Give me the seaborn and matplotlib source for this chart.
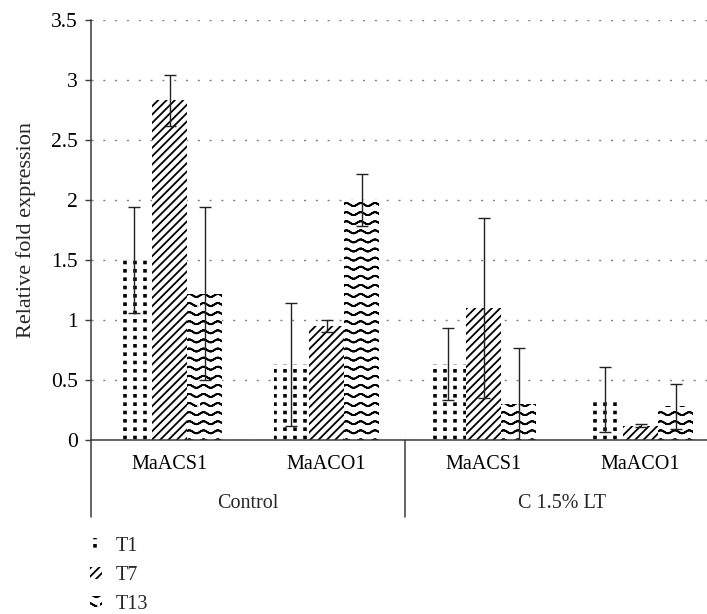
import numpy as np
import pandas as pd
import matplotlib
matplotlib.use("Agg")
import matplotlib.pyplot as plt
import matplotlib.hatch as mhatch
import matplotlib.transforms as mtransforms
from matplotlib.path import Path
from matplotlib.lines import Line2D
from matplotlib.patches import Patch
import seaborn as sns

# ---- data -------------------------------------------------------------
conditions = ["Control", "Control", "C 1.5% LT", "C 1.5% LT"]
genes = ["MaACS1", "MaACO1", "MaACS1", "MaACO1"]
timepoints = ["T1", "T7", "T13"]

t1_mean = [1.50, 0.63, 0.63, 0.34]
t7_mean = [2.83, 0.95, 1.10, 0.12]
t13_mean = [1.22, 2.00, 0.30, 0.28]

t1_err = [0.44, 0.51, 0.30, 0.27]
t7_err = [0.21, 0.05, 0.75, 0.01]
t13_err = [0.72, 0.22, 0.47, 0.19]

y_ticks = [0, 0.5, 1, 1.5, 2, 2.5, 3, 3.5]

slots = [f"{c}|{g}" for c, g in zip(conditions, genes)]
means = {"T1": t1_mean, "T7": t7_mean, "T13": t13_mean}
errs = {"T1": t1_err, "T7": t7_err, "T13": t13_err}

df = pd.DataFrame(
    [(s, t, means[t][i]) for t in timepoints for i, s in enumerate(slots)],
    columns=["slot", "time", "value"],
)


# ---- hatch patterns: square dots ('.') and wavy rows ('O') -------------
class SquareDots(mhatch.HatchPatternBase):
    def __init__(self, hatch, density):
        n = hatch.count(".")
        self.cols = 10 if n else 0
        self.rows = 12 if n else 0
        self.num_vertices = self.cols * self.rows * 5

    def set_vertices_and_codes(self, vertices, codes):
        s = 0.009
        k = 0
        for i in range(self.rows):
            for j in range(self.cols):
                cx = (j + 0.5) / self.cols
                cy = (i + 0.5) / self.rows
                vertices[k:k + 5] = [[cx - s, cy - s], [cx + s, cy - s],
                                     [cx + s, cy + s], [cx - s, cy + s],
                                     [cx - s, cy - s]]
                codes[k:k + 5] = [Path.MOVETO, Path.LINETO, Path.LINETO,
                                  Path.LINETO, Path.CLOSEPOLY]
                k += 5


class WaveRows(mhatch.HatchPatternBase):
    def __init__(self, hatch, density):
        n = hatch.count("O")
        self.rows = 11 if n else 0
        self.periods = 7
        self.steps = 10
        self.per_row = self.periods * self.steps + 1
        self.num_vertices = self.rows * self.per_row * 2

    def set_vertices_and_codes(self, vertices, codes):
        xs = np.linspace(0.0, 1.0, self.per_row)
        amp = 0.015
        k = 0
        for i in range(self.rows):
            y0 = (i + 0.5) / self.rows
            ys = y0 + amp * np.sin(2 * np.pi * self.periods * xs)
            fwd = np.column_stack([xs, ys])
            # trace forward and back so the filled area stays empty
            pts = np.vstack([fwd, fwd[::-1]])
            n = len(pts)
            vertices[k:k + n] = pts
            codes[k:k + n] = Path.LINETO
            codes[k] = Path.MOVETO
            k += n


if hasattr(mhatch, "_hatch_types"):
    mhatch._hatch_types[:] = [
        mhatch.HorizontalHatch, mhatch.VerticalHatch,
        mhatch.NorthEastHatch, mhatch.SouthEastHatch,
        mhatch.SmallCircles, SquareDots, WaveRows, mhatch.Stars,
    ]

hatches = {"T1": ".", "T7": "////", "T13": "O"}

# ---- style ------------------------------------------------------------
sns.set_style("ticks")
plt.rcParams["font.family"] = ["Liberation Serif", "DejaVu Serif"]
plt.rcParams["hatch.linewidth"] = 1.3
FS = 14.5
AX_COLOR = "#3a3a3a"

fig = plt.figure(figsize=(7.07, 6.14), dpi=100)
ax = fig.add_axes([91 / 707, 174 / 614, 628 / 707, 420 / 614])

sns.barplot(
    data=df, x="slot", y="value", hue="time",
    order=slots, hue_order=timepoints,
    palette=["white"] * 3, edgecolor="black", linewidth=0,
    width=0.67, errorbar=None, legend=False, ax=ax,
)

for t, cont in zip(timepoints, ax.containers):
    xs, ys = [], []
    for p in cont.patches:
        p.set_hatch(hatches[t])
        p.set_edgecolor("black")
        p.set_linewidth(0)
        xs.append(p.get_x() + p.get_width() / 2)
        ys.append(p.get_height())
    ax.errorbar(xs, ys, yerr=errs[t], fmt="none", ecolor="#222222",
                elinewidth=1.0, capsize=4, capthick=1.0, zorder=5)

# ---- axes -------------------------------------------------------------
ax.set_xlim(-0.5, 3.5)
ax.set_ylim(0, 3.5)
ax.set_yticks(y_ticks)
ax.set_yticklabels([f"{v:g}" for v in y_ticks])
ax.set_xticks(range(len(genes)))
ax.set_xticklabels(genes)
ax.tick_params(axis="y", length=4.5, width=1.0, color=AX_COLOR,
               pad=5, labelsize=15.5, labelcolor="black")
ax.tick_params(axis="x", length=0, pad=11, labelsize=FS, labelcolor="black")
ax.set_xlabel("")
ax.set_ylabel("Relative fold expression", fontsize=16, labelpad=11)

for side in ("top", "right"):
    ax.spines[side].set_visible(False)
for side in ("left", "bottom"):
    ax.spines[side].set_color(AX_COLOR)
    ax.spines[side].set_linewidth(1.1)

ax.set_axisbelow(True)
ax.yaxis.grid(True, linestyle=(0, (1.5, 7)), color="#808080", linewidth=1.0)
ax.xaxis.grid(False)

# group labels and separators below the axis
trans = mtransforms.blended_transform_factory(ax.transData, ax.transAxes)
seen = []
for c in conditions:
    if c not in seen:
        seen.append(c)
for c in seen:
    pos = [i for i, cc in enumerate(conditions) if cc == c]
    ax.text(np.mean(pos), -64 / 420, c, transform=trans, ha="center",
            va="center", fontsize=FS)

sep_depth = -77 / 420
for xv in (-0.5, 1.5):
    ax.add_line(Line2D([xv, xv], [0, sep_depth], transform=trans,
                       color=AX_COLOR, linewidth=1.1, clip_on=False))

# legend
handles = [Patch(facecolor="white", edgecolor="black", linewidth=0,
                 hatch=hatches[t]) for t in timepoints]
fig.legend(handles, timepoints, loc="upper left",
           bbox_to_anchor=(90 / 707, 1 - 537 / 614), frameon=False,
           handlelength=0.6, handleheight=0.6, handletextpad=0.7,
           labelspacing=0.5, borderpad=0, borderaxespad=0, fontsize=FS)

fig.savefig("out.png", dpi=100)
